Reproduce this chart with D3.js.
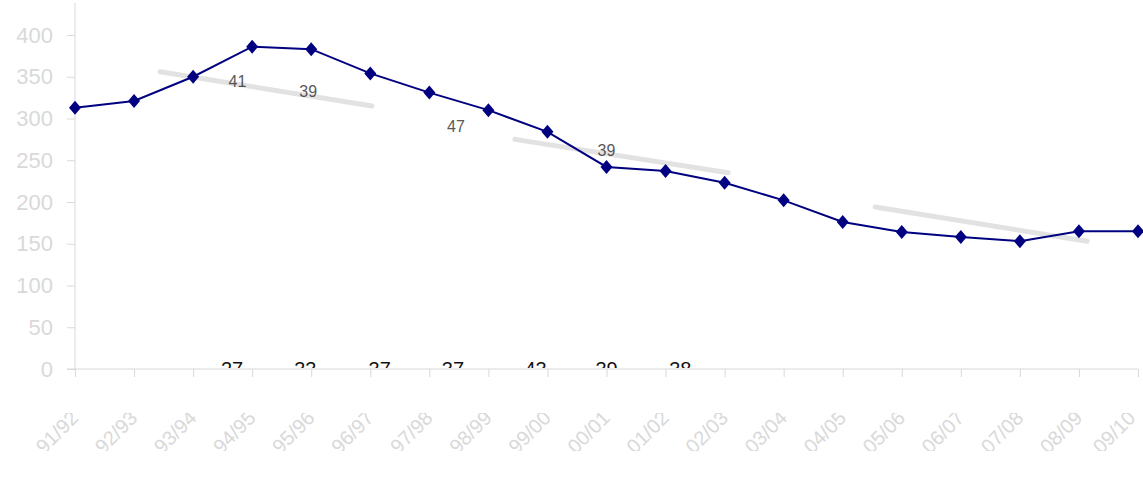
<!DOCTYPE html>
<html>
<head>
<meta charset="utf-8">
<script src="https://cdn.jsdelivr.net/npm/d3@7/dist/d3.min.js"></script>
<style>
  body { margin: 0; background: #fff; }
  svg { display: block; font-family: "Liberation Sans", Arial, sans-serif; }
</style>
</head>
<body>
<div id="chart"></div>
<script>
// categories (fiscal years)
var years = ["91/92", "92/93", "93/94", "94/95", "95/96", "96/97", "97/98", "98/99", "99/00",
             "00/01", "01/02", "02/03", "03/04", "04/05", "05/06", "06/07", "07/08", "08/09", "09/10"];
// main series
var values = [313, 321, 350, 386, 383, 354, 331, 310, 284, 242, 237, 223, 202, 176, 164, 158, 153, 165, 165];
// y tick labels
var yTicks = [0, 50, 100, 150, 200, 250, 300, 350, 400];
// faint grey streaks (category index, value)
var streaks = [
  [[1.44, 356], [5.03, 315]],
  [[7.45, 275], [11.06, 235]],
  [[13.55, 194], [17.14, 153]]
];
// partly hidden labels sitting on the x axis
var baseLabels = ["27", "33", "37", "37", "43", "39", "38"];
var baseIdx = [2.66, 3.9, 5.16, 6.4, 7.8, 9.0, 10.25];
// partly hidden labels along the streaks
var midLabels = ["41", "39", "47", "39"];
var midIdx = [2.75, 3.95, 6.45, 9.0];
var midVal = [345, 333, 290, 262];

var width = 1143, height = 484;
var x0 = 75, x1 = 1138, yTop = 35, yBase = 369;
var axisColor = "#d9d9d9";
var lineColor = "#000080";

var svg = d3.select("#chart")
        .append("svg")
        .attr("width", width)
        .attr("height", height);

var x = d3.scalePoint().domain(years).range([x0, x1]);
var xi = d3.scaleLinear().domain([0, years.length - 1]).range([x0, x1]);
var y = d3.scaleLinear().domain([0, 400]).range([yBase, yTop]);

var defs = svg.append("defs");
defs.append("clipPath").attr("id", "xlabClip")
        .append("rect").attr("x", 0).attr("y", 413).attr("width", width).attr("height", 38);
defs.append("clipPath").attr("id", "baseClip")
        .append("rect").attr("x", 0).attr("y", 340).attr("width", width).attr("height", 28);

//Axes

var yAxis = d3.axisLeft(y).tickValues(yTicks).tickSize(8).tickPadding(14);
var gy = svg.append("g")
        .attr("transform", "translate(" + x0 + ",0)")
        .call(yAxis);
gy.select(".domain").remove();
gy.append("line")
        .attr("x1", 0).attr("x2", 0)
        .attr("y1", 3).attr("y2", yBase)
        .attr("stroke", axisColor);
gy.selectAll(".tick line").attr("stroke", axisColor);
gy.selectAll(".tick text")
        .attr("fill", axisColor)
        .attr("font-size", "22px")
        .attr("font-family", "Liberation Sans, Arial, sans-serif");

var xAxis = d3.axisBottom(x).tickSize(8).tickFormat("");
var gx = svg.append("g")
        .attr("transform", "translate(0," + yBase + ")")
        .call(xAxis);
gx.select(".domain").remove();
gx.append("line")
        .attr("x1", x0 - 8).attr("x2", x1)
        .attr("y1", 0).attr("y2", 0)
        .attr("stroke", axisColor);
gx.selectAll(".tick line").attr("stroke", axisColor);

// rotated category labels, cut to a band
svg.append("g")
        .attr("clip-path", "url(#xlabClip)")
        .selectAll("text")
        .data(years)
        .enter()
        .append("text")
        .attr("transform", function (d, i) {
            var dx = i === years.length - 1 ? 24 : 18;
            return "translate(" + (x(d) - dx) + ",432) rotate(-45)";
        })
        .attr("text-anchor", "middle")
        .attr("dy", "0.35em")
        .attr("font-size", "20px")
        .attr("fill", axisColor)
        .text(function (d) { return d; });

// numbers whose tops peek above the axis
svg.append("g")
        .attr("clip-path", "url(#baseClip)")
        .selectAll("text")
        .data(baseLabels)
        .enter()
        .append("text")
        .attr("x", function (d, i) { return xi(baseIdx[i]); })
        .attr("y", yBase + 7)
        .attr("text-anchor", "middle")
        .attr("font-size", "20px")
        .attr("fill", "#111")
        .text(function (d) { return d; });

//Streaks

svg.append("g")
        .selectAll("path")
        .data(streaks)
        .enter()
        .append("path")
        .attr("d", d3.line()
                .x(function (p) { return xi(p[0]); })
                .y(function (p) { return y(p[1]); }))
        .attr("fill", "none")
        .attr("stroke", "#e2e2e2")
        .attr("stroke-width", 5)
        .attr("stroke-linecap", "round");

svg.append("g")
        .selectAll("text")
        .data(midLabels)
        .enter()
        .append("text")
        .attr("x", function (d, i) { return xi(midIdx[i]); })
        .attr("y", function (d, i) { return y(midVal[i]); })
        .attr("dy", "0.35em")
        .attr("text-anchor", "middle")
        .attr("font-size", "16px")
        .attr("fill", "#222")
        .attr("opacity", 0.75)
        .text(function (d) { return d; });

//Series

svg.append("path")
        .datum(values)
        .attr("d", d3.line()
                .x(function (d, i) { return x(years[i]); })
                .y(function (d) { return y(d); }))
        .attr("fill", "none")
        .attr("stroke", lineColor)
        .attr("stroke-width", 2);

svg.append("g")
        .selectAll("path")
        .data(values)
        .enter()
        .append("path")
        .attr("transform", function (d, i) {
            return "translate(" + x(years[i]) + "," + y(d) + ")";
        })
        .attr("d", "M0,-7 L6,0 L0,7 L-6,0 Z")
        .attr("fill", lineColor);
</script>
</body>
</html>
